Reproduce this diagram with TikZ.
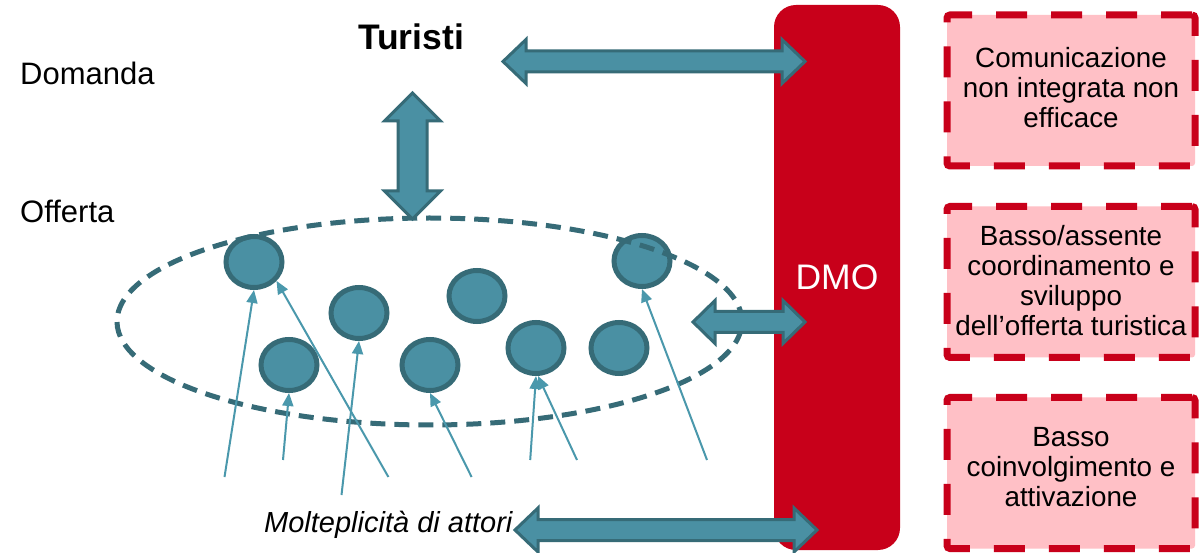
\documentclass[tikz,border=0pt]{standalone}
\usepackage{fontspec}
\setmainfont{Liberation Sans}
\usetikzlibrary{arrows.meta,shapes.geometric,calc}

\definecolor{dmored}{RGB}{200,0,26}
\definecolor{boxpink}{RGB}{255,192,198}
\definecolor{tealfill}{RGB}{74,144,163}
\definecolor{tealdark}{RGB}{54,107,119}
\definecolor{teallight}{RGB}{74,152,172}

\tikzset{
  actor/.style={ellipse, draw=tealdark, fill=tealfill, line width=5pt,
    minimum width=56pt, minimum height=51pt, inner sep=0pt},
  link/.style={draw=teallight, line width=2pt,
    -{Triangle[length=13pt,width=11pt]}},
  fatarrow/.style={fill=tealfill, draw=tealdark, line width=3pt, line join=miter},
  issue/.style={rectangle, draw=dmored, fill=boxpink, line width=7pt,
    dash pattern=on 31pt off 24pt, rounded corners=3pt,
    minimum width=248pt, minimum height=151pt, inner sep=0pt,
    align=center, font=\fontsize{27.8}{30}\selectfont},
  plainlabel/.style={inner sep=0pt, font=\fontsize{31}{34}\selectfont},
}

% horizontal double block arrow: left tip, right tip, head length, head half-width, shaft half-width
\newcommand\hfatarrow[5]{%
  \draw[fatarrow] (#1) -- ++(#3,-#4) -- ++(0,#4-#5) -- ($(#2)+(-#3,-#5)$)
    -- ++(0,#5-#4) -- (#2) -- ++(-#3,#4) -- ++(0,#5-#4)
    -- ($(#1)+(#3,#5)$) -- ++(0,#4-#5) -- cycle;}
% vertical double block arrow: top tip, bottom tip, head length, head half-width, shaft half-width
\newcommand\vfatarrow[5]{%
  \draw[fatarrow] (#1) -- ++(-#4,#3) -- ++(#4-#5,0) -- ($(#2)+(-#5,-#3)$)
    -- ++(#5-#4,0) -- (#2) -- ++(#4,-#3) -- ++(#5-#4,0)
    -- ($(#1)+(#5,#3)$) -- ++(#4-#5,0) -- cycle;}

\begin{document}
\begin{tikzpicture}[x=1pt,y=-1pt]
  \fill[white] (0,0) rectangle (1203,553);
  \useasboundingbox (0,0) rectangle (1203,553);

  % left-hand labels
  \node[plainlabel, anchor=base west] (dom) at (20,85) {Domanda};
  \node[plainlabel, anchor=base west] (off) at (20,223) {Offerta};
  \node[inner sep=0pt, anchor=base, font=\fontsize{35.5}{40}\selectfont\bfseries]
    (tur) at (411,50) {Turisti};
  \node[inner sep=0pt, anchor=base west, font=\fontsize{29}{32}\selectfont\itshape]
    (mol) at (264,532) {Molteplicità di attori};

  % the DMO column
  \node[rectangle, fill=dmored, rounded corners=22pt, minimum width=126pt,
    minimum height=545pt, inner sep=0pt, text=white,
    font=\fontsize{35.5}{40}\selectfont] (dmo) at (837,277.5) {DMO};

  % issue boxes
  \node[issue, text depth=7pt] (b1) at (1071,90.5)
    {Comunicazione\\non integrata non\\efficace};
  \node[issue, text depth=4pt] (b2) at (1071,282)
    {Basso/assente\\coordinamento e\\sviluppo\\dell’offerta turistica};
  \node[issue, text depth=12pt] (b3) at (1071,473)
    {Basso\\coinvolgimento e\\attivazione};

  % actors
  \node[actor] (c1) at (254,262) {};
  \node[actor] (c2) at (359,313) {};
  \node[actor] (c3) at (477,296) {};
  \node[actor] (c4) at (289,365) {};
  \node[actor] (c5) at (430,365) {};
  \node[actor] (c6) at (536,348) {};
  \node[actor] (c7) at (619,348) {};
  \node[actor] (c8) at (642,261) {};

  % the supply system
  \node[ellipse, draw=tealdark, line width=5pt, dash pattern=on 15pt off 9pt,
    minimum width=625pt, minimum height=207pt, inner sep=0pt]
    (grp) at (429.5,321.5) {};

  % actors' links
  \coordinate (s1) at (224.5,477);
  \coordinate (s2) at (388.4,477);
  \coordinate (s3) at (283,460);
  \coordinate (s4) at (341.5,495);
  \coordinate (s5) at (471.6,477);
  \coordinate (s6) at (530.2,460);
  \coordinate (s7) at (577,460);
  \coordinate (s8) at (707,460);
  \draw[link] (s1) -- (c1.south);
  \draw[link] (s2) -- (c1.-40);
  \draw[link] (s3) -- (c4.south);
  \draw[link] (s4) -- (c2.south);
  \draw[link] (s5) -- (c5.south);
  \draw[link] (s6) -- (c6.south);
  \draw[link] (s7) -- (c6.-86);
  \draw[link] (s8) -- (c8.south);

  % block arrows
  \coordinate (ta1) at (503,61.5);
  \coordinate (ta2) at (805,61.5);
  \hfatarrow{ta1}{ta2}{23}{22}{10.5}
  \coordinate (va1) at (412.5,93);
  \coordinate (va2) at (412.5,219);
  \vfatarrow{va1}{va2}{28}{28}{14.5}
  \coordinate (ma1) at (693,322);
  \coordinate (ma2) at (805,322);
  \hfatarrow{ma1}{ma2}{22}{21.5}{10.5}
  \coordinate (ba1) at (515,530);
  \coordinate (ba2) at (817,530);
  \hfatarrow{ba1}{ba2}{23}{22}{10.5}
\end{tikzpicture}
\end{document}
